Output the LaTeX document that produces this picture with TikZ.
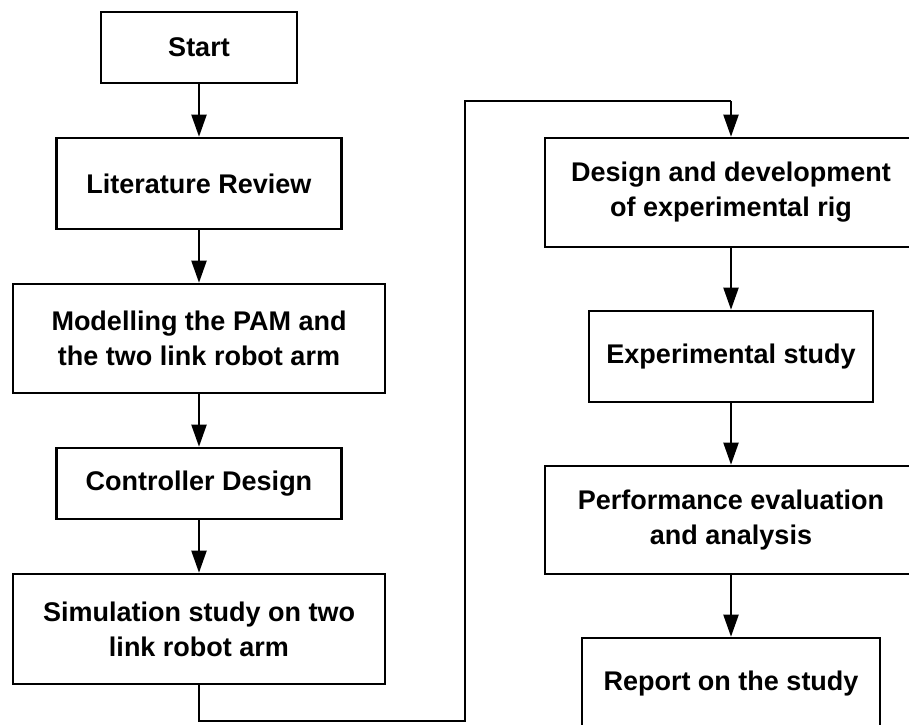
\documentclass[tikz,border=0pt]{standalone}
\usepackage{fontspec}
\setmainfont{Liberation Sans}
\usetikzlibrary{arrows.meta}
\tikzset{
  stepbox/.style={draw=black, line width=2.6pt, inner sep=0pt, align=center,
    font=\fontsize{27}{35}\selectfont\bfseries, text=black},
  flowarrow/.style={draw=black, line width=2pt, -{Triangle[width=15pt,length=22pt]}},
  flowline/.style={draw=black, line width=2pt}
}
\begin{document}
\begin{tikzpicture}[x=1pt,y=-1pt]
\useasboundingbox (0,0) rectangle (909,724);
\clip (0,0) rectangle (909,724);
\fill[white] (0,0) rectangle (909,724);
% left column
\node[stepbox, minimum width=196pt, minimum height=71pt] (start) at (199,47.5) {Start};
\node[stepbox, minimum width=285pt, minimum height=91pt] (lit) at (199,183.5) {Literature Review};
\node[stepbox, minimum width=372pt, minimum height=109pt] (model) at (199,338.5) {Modelling the PAM and\\the two link robot arm};
\node[stepbox, minimum width=285pt, minimum height=71pt] (ctrl) at (199,483.5) {Controller Design};
\node[stepbox, minimum width=372pt, minimum height=110pt] (sim) at (199,629) {Simulation study on two\\link robot arm};
% right column
\node[stepbox, minimum width=372pt, minimum height=109pt] (rig) at (731,192.5) {Design and development\\of experimental rig};
\node[stepbox, minimum width=284pt, minimum height=91pt] (exp) at (731,356.5) {Experimental study};
\node[stepbox, minimum width=372pt, minimum height=108pt] (perf) at (731,520) {Performance evaluation\\and analysis};
\node[stepbox, minimum width=298pt, minimum height=91pt] (rep) at (731,683.5) {Report on the study};
% connectors
\draw[flowarrow] (start) -- (lit);
\draw[flowarrow] (lit) -- (model);
\draw[flowarrow] (model) -- (ctrl);
\draw[flowarrow] (ctrl) -- (sim);
\coordinate (c1) at (199,721);
\coordinate (c2) at (465,721);
\coordinate (c3) at (465,101);
\coordinate (c4) at (731,101);
\draw[flowline] (sim.south) -- (c1) -- (c2) -- (c3) -- (c4);
\draw[flowarrow] (c4) -- (rig.north);
\draw[flowarrow] (rig) -- (exp);
\draw[flowarrow] (exp) -- (perf);
\draw[flowarrow] (perf) -- (rep);
\end{tikzpicture}
\end{document}
